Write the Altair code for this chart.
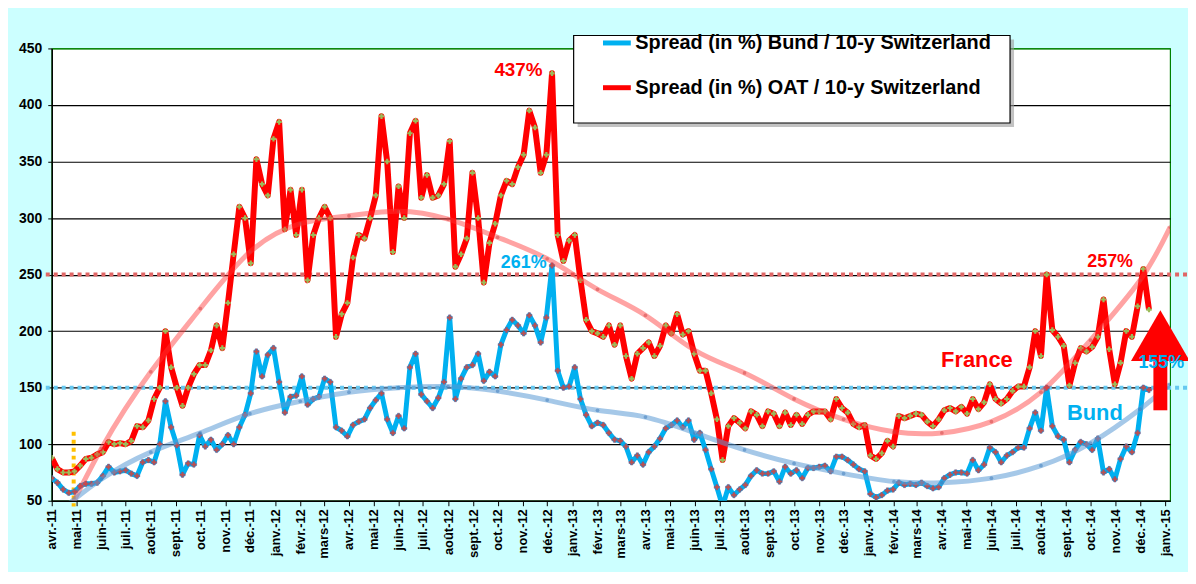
import pandas as pd
import altair as alt

# --- series: one value per week, starting 1 April 2011 ---
start_date = "2011-04-01"

oat_spread = [
    88, 78, 75, 75, 76, 81, 87, 88, 91, 93,
    102, 100, 101, 100, 103, 116, 115, 121, 140, 150,
    200, 168, 150, 134, 150, 162, 170, 170, 183, 205,
    185, 225, 268, 310, 300, 260, 352, 330, 320, 370,
    385, 290, 325, 285, 325, 245, 285, 300, 310, 300,
    195, 215, 225, 265, 285, 282, 300, 320, 390, 350,
    270, 328, 300, 375, 386, 318, 338, 318, 320, 330,
    368, 257, 268, 282, 340, 300, 243, 278, 295, 320,
    333, 330, 345, 356, 395, 380, 340, 356, 428, 285,
    262, 280, 285, 245, 210, 200, 198, 195, 205, 188,
    205, 178, 158, 180, 185, 190, 178, 187, 205, 198,
    215, 197, 200, 180, 165, 165, 145, 122, 86, 116,
    123, 119, 114, 129, 126, 116, 129, 127, 116, 128,
    117, 126, 118, 126, 129, 129, 129, 122, 140, 132,
    128, 118, 115, 117, 90, 87, 92, 103, 98, 125,
    123, 125, 127, 126, 120, 116, 122, 130, 132, 129,
    133, 127, 140, 131, 137, 153, 140, 136, 140, 147,
    151, 151, 168, 200, 178, 250, 201, 195, 187, 152,
    172, 185, 182, 186, 195, 228, 184, 153, 172, 200,
    195, 222, 255, 219,
]

bund_spread = [
    70, 66, 60, 57, 58, 63, 65, 65, 66, 72,
    80, 75, 76, 77, 74, 72, 84, 86, 84, 100,
    138, 115, 99, 73, 83, 82, 108, 98, 104, 95,
    100, 108, 100, 115, 126, 145, 182, 160, 179, 185,
    155, 128, 142, 143, 160, 135, 140, 142, 158, 155,
    115, 112, 107, 117, 120, 122, 132, 139, 145, 122,
    110, 125, 114, 168, 180, 144, 138, 132, 141, 155,
    212, 140, 158, 168, 170, 180, 156, 164, 160, 188,
    201, 210, 205, 198, 214, 205, 190, 212, 258, 165,
    150, 151, 168, 140, 126, 116, 119, 117, 110, 104,
    103, 98, 84, 90, 82, 93, 98, 105, 114, 117,
    121, 115, 121, 104, 110, 95, 78, 62, 45, 62,
    55, 60, 64, 72, 77, 74, 74, 76, 67, 80,
    74, 77, 70, 79, 79, 80, 81, 76, 89, 89,
    86, 82, 78, 76, 56, 53, 55, 59, 60, 66,
    64, 65, 64, 66, 63, 61, 62, 70, 73, 75,
    75, 74, 86, 77, 82, 97, 93, 84, 90, 93,
    97, 97, 114, 128, 112, 150, 116, 107, 104, 84,
    95, 102, 100, 95, 105, 75, 78, 69, 87, 98,
    93, 110, 150, 148,
]

# --- trend curves (points every two months) ---
trend_dates = [
    "2011-04-01", "2011-06-01", "2011-08-01", "2011-10-01", "2011-12-01",
    "2012-02-01", "2012-04-01", "2012-06-01", "2012-08-01", "2012-10-01",
    "2012-12-01", "2013-02-01", "2013-04-01", "2013-06-01", "2013-08-01",
    "2013-10-01", "2013-12-01", "2014-02-01", "2014-04-01", "2014-06-01",
    "2014-08-01", "2014-10-01", "2014-12-01", "2015-01-07",
]
oat_trend = [10, 96, 164, 220, 270, 295, 302, 306, 299, 283, 264, 237,
             214, 183, 163, 140, 122, 111, 110, 120, 146, 192, 245, 292]
bund_trend = [35, 69, 93, 110, 127, 138, 146, 150, 151, 147, 139, 130,
              124, 110, 95, 83, 74, 67, 66, 70, 81, 101, 131, 153]

# --- reference levels, marker, annotations ---
ref_levels = [250, 150]
ref_colors = ["#E06666", "#66C8F0"]

marker_date = "2011-04-28"
marker_top, marker_bottom = 111, 45

note_text = ["437%", "261%", "257%", "155%", "France", "Bund"]
note_date = ["2012-09-27", "2012-10-05", "2014-09-27", "2014-11-29", "2014-03-31", "2014-09-02"]
note_value = [431, 260, 261, 172, 174, 128]
note_size = [19, 18, 18, 18, 22, 22]

arrow_date = "2014-12-26"
arrow_base, arrow_neck, arrow_head = 130, 180, 196

RED = "#FF0000"
BLUE = "#00B0F0"
OAT = "Spread (in %) OAT / 10-y Switzerland"
BUND = "Spread (in %) Bund / 10-y Switzerland"
FONT = "Liberation Sans"

dates = pd.date_range(start_date, periods=len(oat_spread), freq="7D").strftime("%Y-%m-%d")
df_oat = pd.DataFrame({"date": dates, "value": oat_spread, "series": OAT})
df_bund = pd.DataFrame({"date": dates[:len(bund_spread)], "value": bund_spread, "series": BUND})
df_trend_oat = pd.DataFrame({"date": trend_dates, "value": oat_trend})
df_trend_bund = pd.DataFrame({"date": trend_dates, "value": bund_trend})
df_ref = pd.DataFrame({"value": ref_levels, "color": ref_colors})
df_marker = pd.DataFrame({"date": [marker_date], "value": [marker_top], "value2": [marker_bottom]})
df_notes = pd.DataFrame({
    "date": note_date, "value": note_value, "text": note_text, "size": note_size,
    "color": [RED, BLUE, RED, BLUE, RED, BLUE],
})
df_arrow = pd.DataFrame({"date": [arrow_date], "value": [arrow_base], "value2": [arrow_neck],
                         "head": [arrow_head]})
dummy = pd.DataFrame({"a": [0]})

month_names = "['janv.','févr.','mars','avr.','mai','juin','juil.','août','sept.','oct.','nov.','déc.']"

x_enc = alt.X(
    "date:T", title=None,
    scale=alt.Scale(type="utc", domain=[alt.DateTime(year=2011, month=4, date=1, utc=True),
                                        alt.DateTime(year=2015, month=1, date=7, utc=True)]),
    axis=alt.Axis(
        tickCount={"interval": "month", "step": 1},
        labelExpr=month_names + "[utcmonth(datum.value)] + '-' + utcFormat(datum.value, '%y')",
        labelAngle=-90, labelFont=FONT, labelFontSize=13, labelFontWeight="bold",
        labelColor="black", labelOverlap=False, labelFlush=False, labelPadding=3,
        tickColor="black", tickSize=5, domainColor="black", domainWidth=1.5, grid=False,
    ),
)
y_enc = alt.Y(
    "value:Q", title=None,
    scale=alt.Scale(domain=[50, 450], nice=False, zero=False),
    axis=alt.Axis(
        values=list(range(50, 451, 50)), labelFont=FONT, labelFontSize=14,
        labelFontWeight="bold", labelColor="black", labelPadding=6,
        tickColor="black", tickSize=4, domainColor="black", domainWidth=1.5,
        grid=True, gridWidth=1.2,
        gridColor={"condition": {"test": "datum.value === 450", "value": "#008000"}, "value": "black"},
    ),
)

color_enc = alt.Color(
    "series:N",
    scale=alt.Scale(domain=[BUND, OAT], range=[BLUE, RED]),
    legend=alt.Legend(
        title=None, orient="none", legendX=552, legendY=-22, direction="vertical",
        symbolType="stroke", symbolStrokeWidth=5, symbolSize=784,
        labelFont=FONT, labelFontSize=20, labelFontWeight="bold", labelColor="black",
        labelLimit=600, labelOffset=2, rowPadding=18, padding=0,
    ),
)

refs = alt.Chart(df_ref).mark_rule(strokeWidth=4, strokeDash=[4, 4]).encode(
    y=y_enc, x=alt.value(-6), x2=alt.value(1145),
    color=alt.Color("color:N", scale=None),
)
marker = alt.Chart(df_marker).mark_rule(color="#FFC000", strokeWidth=4, strokeDash=[4, 4]).encode(
    x=x_enc, y=y_enc, y2="value2:Q",
)

bund_line = alt.Chart(df_bund).mark_line(strokeWidth=5, clip=True, strokeJoin="round").encode(
    x=x_enc, y=y_enc, color=color_enc)
oat_line = alt.Chart(df_oat).mark_line(strokeWidth=6, clip=True, strokeJoin="round").encode(
    x=x_enc, y=y_enc, color=color_enc)
bund_pts = alt.Chart(df_bund).mark_point(
    shape="cross", filled=True, size=30, color="#C0504D", stroke="#4F6FAF",
    strokeWidth=0.5, opacity=1, clip=True).encode(x=x_enc, y=y_enc)
oat_pts = alt.Chart(df_oat).mark_point(
    shape="cross", filled=True, size=30, color="#9BBB59", opacity=1, clip=True
).encode(x=x_enc, y=y_enc)

trend_oat = alt.Chart(df_trend_oat).mark_line(
    interpolate="natural", strokeWidth=5, color="#FF3333", opacity=0.45, clip=True
).encode(x=x_enc, y=y_enc)
trend_bund = alt.Chart(df_trend_bund).mark_line(
    interpolate="natural", strokeWidth=5, color="#5B9BD5", opacity=0.55, clip=True
).encode(x=x_enc, y=y_enc)
trend_oat_pts = alt.Chart(df_trend_oat).mark_circle(size=14, color="#D04040", opacity=0.5, clip=True).encode(
    x=x_enc, y=y_enc)
trend_bund_pts = alt.Chart(df_trend_bund).mark_circle(size=14, color="#3A78B8", opacity=0.5, clip=True).encode(
    x=x_enc, y=y_enc)

arrow_shaft = alt.Chart(df_arrow).mark_rule(color=RED, strokeWidth=14).encode(
    x=x_enc, y=y_enc, y2="value2:Q")
arrow_tip = alt.Chart(df_arrow).mark_point(
    shape="triangle-up", filled=True, size=3500, color=RED, opacity=1
).encode(x=x_enc, y=alt.Y("head:Q"))

box_shadow = alt.Chart(dummy).mark_rect(color="#9A9A9A", opacity=0.6).encode(
    x=alt.value(529), x2=alt.value(968), y=alt.value(-9), y2=alt.value(79))
box = alt.Chart(dummy).mark_rect(fill="white", stroke="black", strokeWidth=1.2).encode(
    x=alt.value(525), x2=alt.value(964), y=alt.value(-13), y2=alt.value(75))

notes = alt.Chart(df_notes).mark_text(
    align="left", baseline="middle", font=FONT, fontWeight="bold"
).encode(
    x=x_enc, y=y_enc, text="text:N",
    color=alt.Color("color:N", scale=None),
    size=alt.Size("size:Q", scale=None),
)

chart = alt.layer(
    refs, marker, bund_line, oat_line, bund_pts, oat_pts,
    trend_oat, trend_bund, trend_oat_pts, trend_bund_pts,
    arrow_shaft, arrow_tip, box_shadow, box, notes,
).properties(
    width=1125, height=455,
    autosize=alt.AutoSizeParams(type="none"),
    padding={"left": 44, "top": 39, "right": 18, "bottom": 70},
).configure(
    background="#CCFFFF",
).configure_view(
    stroke="#008000", strokeWidth=1.2, fill="white",
)

chart.save("out.html", embed_options={"renderer": "svg", "actions": False})
